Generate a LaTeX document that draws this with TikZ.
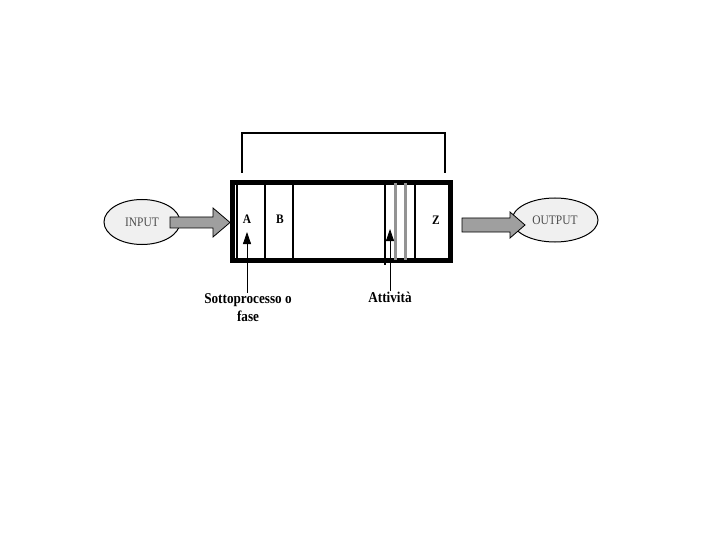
\documentclass[tikz,border=0pt]{standalone}
\usepackage{fontspec}
\setmainfont{Liberation Serif}
\newfontfamily\narrowserif[FakeStretch=0.88]{Liberation Serif}
\usetikzlibrary{shapes.geometric,arrows.meta}
\begin{document}
\begin{tikzpicture}[x=1pt,y=-1pt,
  main node/.style={ellipse, draw, line width=1pt, fill=gray!12, text=gray!60!black, inner sep=0pt, font=\narrowserif\fontsize{13}{15}\selectfont},
  phase node/.style={font=\narrowserif\bfseries\fontsize{13}{15}\selectfont},
  note node/.style={align=center, inner sep=1pt, font=\narrowserif\bfseries\fontsize{15}{18}\selectfont},
  big arrow/.style={draw, line width=0.8pt, fill=gray!75},
  pointer/.style={-{Triangle[width=8pt,length=12pt]}, line width=0.8pt}]
  \useasboundingbox (0,0) rectangle (720,540);

  \node[main node, minimum width=76pt, minimum height=45pt] (1) at (142,222) {INPUT};
  \node[main node, minimum width=86pt, minimum height=44pt] (2) at (555,220) {OUTPUT};
  \node[draw, line width=5pt, minimum width=218pt, minimum height=78pt, inner sep=0pt] (3) at (341.5,221.5) {};

  % bracket over the process
  \draw[line width=2.5pt] (242,173) -- (242,133) -- (445,133) -- (445,173);

  % phases and activities
  \foreach \x in {237,265,293,415}
    \draw[line width=1.5pt] (\x,185) -- (\x,258);
  \draw[line width=1.5pt] (385,185) -- (385,265);
  \foreach \x in {395.5,405.5}
    \draw[gray!85, line width=3pt] (\x,183) -- (\x,260);

  \node[phase node] (4) at (247,219) {A};
  \node[phase node] (5) at (280,219) {B};
  \node[phase node] (6) at (436,220) {Z};

  % block arrows in and out
  \draw[big arrow] (170,217) -- (213,217) -- (213,208) -- (230,222.5) -- (213,237) -- (213,228) -- (170,228) -- cycle;
  \draw[big arrow] (462,218) -- (510,218) -- (510,212) -- (525,225) -- (510,238) -- (510,232) -- (462,232) -- cycle;

  \node[note node] (7) at (248,308) {Sottoprocesso o\\fase};
  \node[note node] (8) at (390,297) {Attività};
  \coordinate (a) at (247,232);
  \coordinate (b) at (390,229);

  \draw[pointer] (7.north -| a) -- (a);
  \draw[pointer] (8.north) -- (b);
\end{tikzpicture}
\end{document}
